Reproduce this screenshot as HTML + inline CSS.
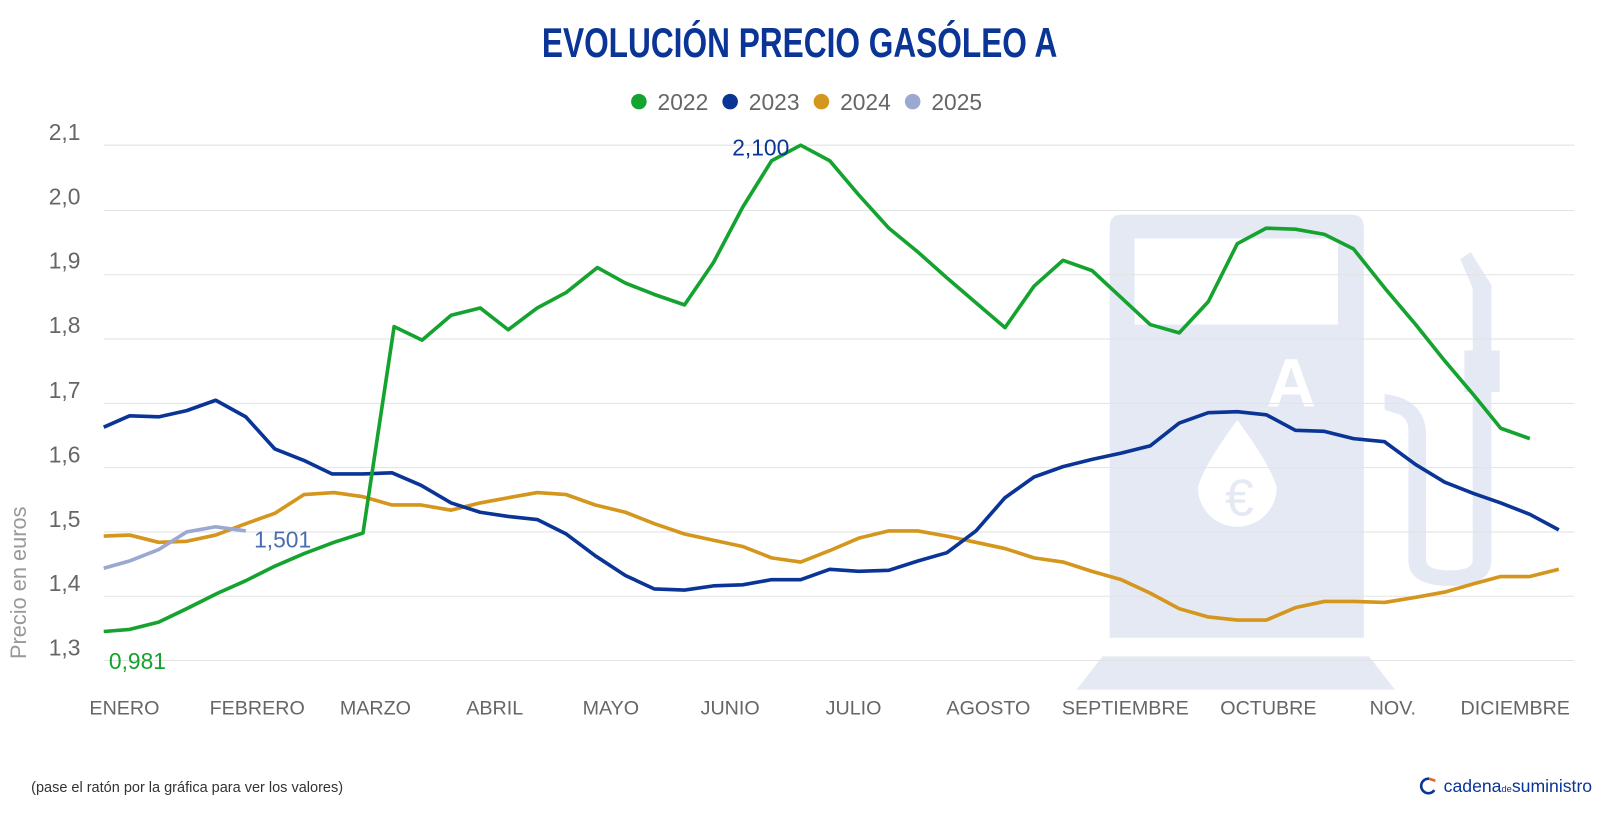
<!DOCTYPE html>
<html><head><meta charset="utf-8"><style>
html,body{margin:0;padding:0;background:#fff;}
svg{display:block;}
text{font-family:"Liberation Sans",sans-serif;}
</style></head><body>
<svg width="1620" height="814" viewBox="0 0 1562 785" preserveAspectRatio="none" xmlns="http://www.w3.org/2000/svg">
<rect width="1562" height="785" fill="#fff"/>
<g fill="#e4e9f4">
<path d="M1082,207 H1303 Q1315,207 1315,219 V615 H1070 V219 Q1070,207 1082,207 Z"/>
<path d="M1063,633 H1320 L1345,665 H1038 Z"/>
<path d="M1408,250 L1418,243 L1438,275 L1438,338 L1446,338 L1446,378 L1438,378 L1438,540 Q1438,565 1398,565 Q1358,565 1358,540 V415 Q1358,405 1350,400 L1335,395 V380 Q1375,385 1375,420 V540 Q1375,550 1398,550 Q1420,550 1420,540 V378 L1412,378 L1412,338 L1420,338 L1420,278 Z"/>
</g>
<rect x="1094" y="230" width="196" height="83" fill="#fff"/>
<text x="1245" y="392" font-size="66" font-weight="bold" fill="#fff" text-anchor="middle">A</text>
<path d="M1193,405 Q1160,450 1155,470 A38,38 0 0 0 1231,470 Q1226,450 1193,405 Z" fill="#fff"/>
<text x="1195" y="497" font-size="50" fill="#e4e9f4" text-anchor="middle">€</text>
<g stroke="#e3e3e3" stroke-width="1">
<line x1="100" x2="1518" y1="140" y2="140"/><line x1="100" x2="1518" y1="203" y2="203"/>
<line x1="100" x2="1518" y1="265" y2="265"/><line x1="100" x2="1518" y1="327" y2="327"/>
<line x1="100" x2="1518" y1="389" y2="389"/><line x1="100" x2="1518" y1="451" y2="451"/>
<line x1="100" x2="1518" y1="513" y2="513"/><line x1="100" x2="1518" y1="575" y2="575"/>
<line x1="100" x2="1518" y1="637" y2="637"/>
</g>
<g font-size="22" fill="#666">
<text x="47" y="135">2,1</text><text x="47" y="197">2,0</text><text x="47" y="259">1,9</text>
<text x="47" y="321">1,8</text><text x="47" y="384">1,7</text><text x="47" y="446">1,6</text>
<text x="47" y="508">1,5</text><text x="47" y="570">1,4</text><text x="47" y="632">1,3</text>
</g>
<text transform="translate(25,562) rotate(-90)" font-size="21" fill="#999" text-anchor="middle">Precio en euros</text>
<g font-size="19" fill="#666" text-anchor="middle">
<text x="120" y="689">ENERO</text><text x="248" y="689">FEBRERO</text><text x="362" y="689">MARZO</text>
<text x="477" y="689">ABRIL</text><text x="589" y="689">MAYO</text><text x="704" y="689">JUNIO</text>
<text x="823" y="689">JULIO</text><text x="953" y="689">AGOSTO</text><text x="1085" y="689">SEPTIEMBRE</text>
<text x="1223" y="689">OCTUBRE</text><text x="1343" y="689">NOV.</text><text x="1461" y="689">DICIEMBRE</text>
</g>
<g fill="none" stroke-width="3.5" stroke-linejoin="round">
<polyline stroke="#d4961c" points="100,517 125,516 153,523 180,522 208,516 237,505 265,495 293,477 322,475 350,479 378,487 406,487 435,492 463,485 490,480 518,475 546,477 574,487 603,494 631,505 660,515 688,521 716,527 744,538 772,542 800,531 828,519 857,512 885,512 913,517 941,523 969,529 997,538 1025,542 1053,551 1081,559 1109,572 1137,587 1165,595 1193,598 1221,598 1249,586 1277,580 1305,580 1335,581 1365,576 1393,571 1421,563 1447,556 1475,556 1503,549"/>
<polyline stroke="#0a3596" points="100,412 125,401 153,402 180,396 208,386 237,402 265,433 293,444 320,457 350,457 378,456 406,468 435,485 463,494 490,498 518,501 546,515 574,536 603,555 631,568 660,569 688,565 716,564 744,559 772,559 800,549 828,551 857,550 885,541 913,533 941,512 969,480 997,460 1025,450 1053,443 1081,437 1109,430 1137,408 1165,398 1193,397 1221,400 1249,415 1277,416 1305,423 1335,426 1365,448 1393,465 1421,476 1447,485 1475,496 1503,511"/>
<polyline stroke="#15a32f" points="100,609 125,607 153,600 180,587 210,572 237,560 265,546 293,534 322,523 350,514 380,315 407,328 435,304 463,297 490,318 518,297 546,282 576,258 603,273 631,284 660,294 688,253 716,200 744,155 772,140 800,155 828,188 857,220 885,243 913,268 941,292 969,316 997,276 1025,251 1053,261 1081,287 1109,313 1137,321 1165,291 1193,235 1221,220 1249,221 1277,226 1305,240 1337,280 1365,313 1393,348 1421,381 1447,413 1475,423"/>
<polyline stroke="#9ba8d2" points="100,548 125,541 153,530 180,513 208,508 237,512"/>
</g>
<text x="706" y="150" font-size="22" fill="#0a3596">2,100</text>
<text x="105" y="645" font-size="22" fill="#15a32f">0,981</text>
<text x="245" y="528" font-size="22" fill="#4a6db0">1,501</text>
<text x="771" y="55" font-size="40" font-weight="bold" fill="#0a3596" text-anchor="middle" textLength="497" lengthAdjust="spacingAndGlyphs">EVOLUCIÓN PRECIO GASÓLEO A</text>
<g font-size="22" fill="#666">
<circle cx="616" cy="98" r="7.5" fill="#15a32f"/><text x="634" y="106">2022</text>
<circle cx="704" cy="98" r="7.5" fill="#0a3596"/><text x="722" y="106">2023</text>
<circle cx="792" cy="98" r="7.5" fill="#d4961c"/><text x="810" y="106">2024</text>
<circle cx="880" cy="98" r="7.5" fill="#9ba8d2"/><text x="898" y="106">2025</text>
</g>
<text x="30" y="764" font-size="14" fill="#333">(pase el ratón por la gráfica para ver los valores)</text>
<path d="M1378,751 A7,7 0 1 0 1383,762" fill="none" stroke="#0a3596" stroke-width="2.5"/>
<path d="M1378,751 L1384,753" stroke="#e8631c" stroke-width="2.5"/>
<text x="1392" y="764" font-size="17" fill="#0a3596">cadena<tspan font-size="9">de</tspan>suministro</text>
</svg>
</body></html>
